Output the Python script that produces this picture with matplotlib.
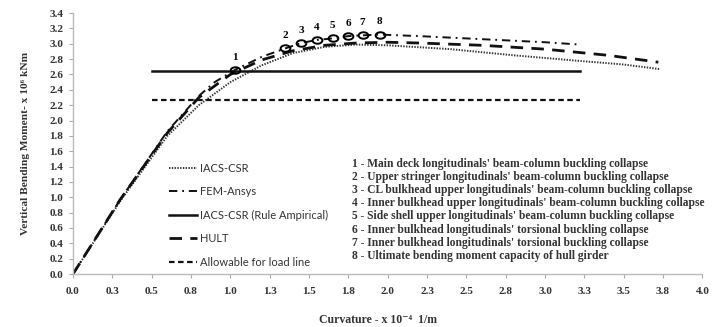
import matplotlib
matplotlib.use("Agg")
import matplotlib.pyplot as plt
from matplotlib.path import Path
from matplotlib.transforms import Affine2D

# curvature (x 10^-4 1/m) and moment (x 10^6 kNm)
iacs_x = [0, 0.3, 0.6, 0.8, 1.0, 1.2, 1.4, 1.6, 1.8, 2.0, 2.4, 2.8, 3.2, 3.5, 3.73]
iacs_y = [0, 0.95, 1.8, 2.2, 2.5, 2.72, 2.88, 2.96, 2.99, 2.98, 2.93, 2.85, 2.78, 2.73, 2.67]

fem_x = [0, 0.3, 0.6, 0.8, 0.9, 1.03, 1.2, 1.35, 1.45, 1.55, 1.65, 1.75, 1.84, 1.95, 2.2, 2.6, 3.0, 3.22]
fem_y = [0, 0.97, 1.86, 2.32, 2.5, 2.66, 2.83, 2.94, 3.01, 3.05, 3.07, 3.10, 3.11, 3.12, 3.10, 3.06, 3.02, 2.99]

hult_x = [0, 0.3, 0.6, 0.8, 1.0, 1.2, 1.4, 1.6, 1.8, 2.0, 2.2, 2.6, 3.0, 3.4, 3.72]
hult_y = [0, 0.97, 1.84, 2.3, 2.6, 2.79, 2.91, 2.98, 3.01, 3.02, 3.01, 2.98, 2.93, 2.85, 2.76]

rule_x = [0.5, 3.22]
rule_y = [2.65, 2.65]
allow_x = [0.5, 3.22]
allow_y = [2.27, 2.27]

event_x = [1.03, 1.35, 1.45, 1.55, 1.65, 1.75, 1.84, 1.95]
event_y = [2.66, 2.94, 3.01, 3.05, 3.07, 3.10, 3.11, 3.12]
event_labels = ["1", "2", "3", "4", "5", "6", "7", "8"]

notes = [
    "1 - Main deck longitudinals' beam-column buckling collapse",
    "2 - Upper stringer longitudinals' beam-column buckling collapse",
    "3 - CL bulkhead upper longitudinals' beam-column buckling collapse",
    "4 - Inner bulkhead upper longitudinals' beam-column buckling collapse",
    "5 - Side shell upper longitudinals' beam-column buckling collapse",
    "6 - Inner bulkhead longitudinals' torsional buckling collapse",
    "7 - Inner bulkhead longitudinals' torsional buckling collapse",
    "8 - Ultimate bending moment capacity of hull girder",
]

x_ticks = [0, 0.25, 0.5, 0.75, 1.0, 1.25, 1.5, 1.75, 2.0, 2.25, 2.5, 2.75, 3.0, 3.25, 3.5, 3.75, 4.0]
x_ticklabels = ["0.0", "0.3", "0.5", "0.8", "1.0", "1.3", "1.5", "1.8", "2.0",
                "2.3", "2.5", "2.8", "3.0", "3.3", "3.5", "3.8", "4.0"]
y_ticks = [0.0, 0.2, 0.4, 0.6, 0.8, 1.0, 1.2, 1.4, 1.6, 1.8, 2.0, 2.2, 2.4, 2.6, 2.8, 3.0, 3.2, 3.4]

plt.rcParams['lines.scale_dashes'] = False
serif = ['Liberation Serif', 'DejaVu Serif']
sans = 'Lato'

fig = plt.figure(figsize=(7.12, 3.27), dpi=100)
ax = fig.add_axes([0.1025, 0.162, 0.884, 0.798])

ax.plot(iacs_x, iacs_y, color='#333333', lw=1.4, linestyle=(0, (1.0, 1.0)), label='IACS-CSR')
ax.plot(fem_x, fem_y, color='#111111', lw=1.4, linestyle=(0, (6, 3.5, 1.3, 3.5)), label='FEM-Ansys')
ax.plot(rule_x, rule_y, color='#111111', lw=1.8, label='IACS-CSR (Rule Ampirical)')
ax.plot(hult_x, hult_y, color='#111111', lw=2.0, linestyle=(0, (9, 6)), label='HULT')
ax.plot(allow_x, allow_y, color='#111111', lw=1.6, linestyle=(0, (4, 2.5)), label='Allowable for load line')

ellipse = Path.unit_circle().transformed(Affine2D().scale(1.5, 1.0))
ax.plot(event_x, event_y, linestyle='none', marker=ellipse, markersize=7,
        markerfacecolor='none', markeredgecolor='black', markeredgewidth=1.4)
for ex, ey, lab in zip(event_x, event_y, event_labels):
    ax.annotate(lab, (ex, ey), xytext=(0, 6), textcoords='offset points', ha='center', va='bottom',
                fontsize=8, fontweight='bold', family=serif)

ax.set_xlim(0, 4.0)
ax.set_ylim(0, 3.4)
ax.set_xticks(x_ticks)
ax.set_xticklabels(x_ticklabels)
ax.set_yticks(y_ticks)
ax.set_yticklabels([f"{v:.1f}" for v in y_ticks])
for lab in ax.get_xticklabels() + ax.get_yticklabels():
    lab.set_family(serif)
    lab.set_fontweight('bold')
    lab.set_fontsize(8)
    lab.set_color('#333333')
ax.tick_params(axis='both', colors='#aaaaaa', length=3, width=0.8, labelcolor='#333333')
ax.tick_params(axis='x', pad=6)
ax.tick_params(axis='y', pad=4)
for s in ['top', 'right']:
    ax.spines[s].set_visible(False)
for s in ['left', 'bottom']:
    ax.spines[s].set_color('#bbbbbb')
    ax.spines[s].set_linewidth(1.0)

ax.set_ylabel("Vertical Bending Moment- x 10\u2076 kNm", family=serif, fontweight='bold',
              fontsize=8.2, color='#333333', labelpad=14)
ax.set_xlabel("Curvature - x 10\u207b\u2074  1/m", family=serif, fontweight='bold',
              fontsize=8.5, color='#333333', labelpad=12)
ax.xaxis.set_label_coords(0.485, -0.155)

leg = ax.legend(loc='upper left', bbox_to_anchor=(0.136, 0.465), frameon=False,
                prop={'family': sans, 'size': 8}, handlelength=2.6, handletextpad=0.2,
                labelspacing=1.12)
for t in leg.get_texts():
    t.set_color('#333333')

for i, note in enumerate(notes):
    fig.text(0.494, 1 - (164 + 13.1 * i) / 327, note, family=serif, fontweight='bold',
             fontsize=8.3, color='#333333', va='center', ha='left')

fig.savefig('out.png', dpi=100)
